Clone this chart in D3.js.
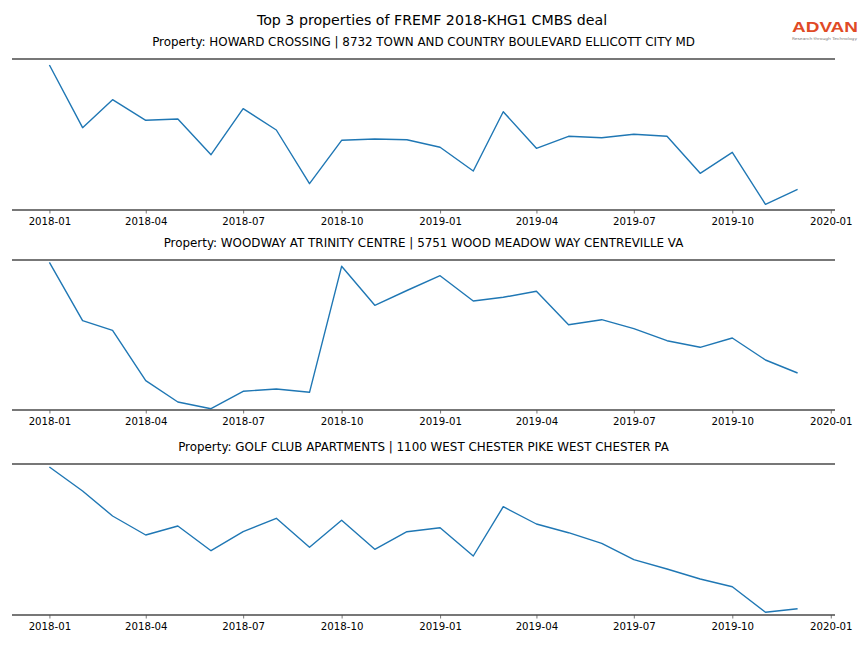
<!DOCTYPE html>
<html><head><meta charset="utf-8">
<script src="https://cdn.jsdelivr.net/npm/d3@7"></script>
<style>body{margin:0;background:#fff;}svg{display:block;font-family:"DejaVu Sans",sans-serif;}</style>
</head><body>
<svg id="c" width="864" height="648"></svg>
<script>
const months = ["2018-01","2018-02","2018-03","2018-04","2018-05","2018-06","2018-07","2018-08","2018-09","2018-10","2018-11","2018-12",
"2019-01","2019-02","2019-03","2019-04","2019-05","2019-06","2019-07","2019-08","2019-09","2019-10","2019-11","2019-12"];
const tickLabels = ["2018-01","2018-04","2018-07","2018-10","2019-01","2019-04","2019-07","2019-10","2020-01"];
const titles = [
 "Property: HOWARD CROSSING | 8732 TOWN AND COUNTRY BOULEVARD ELLICOTT CITY MD",
 "Property: WOODWAY AT TRINITY CENTRE | 5751 WOOD MEADOW WAY CENTREVILLE VA",
 "Property: GOLF CLUB APARTMENTS | 1100 WEST CHESTER PIKE WEST CHESTER PA"];
const howardCrossing = [145,82.3,110.3,89.7,91,55.3,101.3,80,26.3,69.7,71,70.3,62.7,39,98.3,61.7,73.7,72.3,75.7,73.7,36.7,57.7,5.7,20.7];
const woodway = [147.7,89.3,79.7,29.3,8,1.3,18.7,21,17.7,143.7,104.7,119.5,134.3,109,112.7,118.7,85.3,90.3,81.3,69.3,62.7,72,50,37];
const golfClub = [148,124,99,80,89,64.3,83.3,96.7,67.7,94.7,65.7,83.3,87.3,59,108.3,91,82.3,71.7,55.3,46,36,28.3,2.7,6.3];
const seriesList = [howardCrossing, woodway, golfClub];
const yLimits = [[0,151],[0,150],[0,151]];
const mainTitle = "Top 3 properties of FREMF 2018-KHG1 CMBS deal";

const svg = d3.select("#c");
const parse = d3.timeParse("%Y-%m");
const dates = months.map(parse);
const left = 12, right = 835;
const panels = [{top:59,bottom:210},{top:260,bottom:410},{top:464,bottom:615}];

const t0 = dates[0].getTime(), t1 = dates[dates.length-1].getTime();
const pad = (t1 - t0) * 0.05;
const x = d3.scaleTime().domain([new Date(t0 - pad), new Date(t1 + pad)]).range([left, right]);

svg.append("text").attr("x", 432).attr("y", 25).attr("text-anchor","middle")
  .attr("font-size", 14.2).attr("fill","#000").text(mainTitle);

panels.forEach((p, i) => {
  const vals = seriesList[i];
  const y = d3.scaleLinear().domain(yLimits[i]).range([p.bottom, p.top]);
  const g = svg.append("g");
  g.append("text").attr("x", (left+right)/2).attr("y", p.top - 13.5).attr("text-anchor","middle")
    .attr("font-size", 11.9).attr("fill","#000").text(titles[i]);
  const line = d3.line().x((d,j)=>x(dates[j])).y(d=>y(d));
  g.append("path").datum(vals).attr("d", line).attr("fill","none")
    .attr("stroke","#1f77b4").attr("stroke-width",1.4).attr("stroke-linejoin","round");
  const axis = d3.axisBottom(x).tickValues(tickLabels.map(parse))
    .tickFormat(d3.timeFormat("%Y-%m")).tickSizeOuter(0).tickSizeInner(3.5).tickPadding(4.5);
  const ag = g.append("g").attr("transform", `translate(0,${p.bottom})`).call(axis);
  ag.select(".domain").remove();
  ag.selectAll(".tick line").attr("stroke","#555").attr("stroke-width",0.8);
  ag.selectAll(".tick text").attr("font-size", 10.2).attr("fill","#000").attr("font-family","DejaVu Sans");
  [p.top, p.bottom].forEach(yy => {
    g.append("line").attr("x1", left).attr("x2", right).attr("y1", yy).attr("y2", yy)
      .attr("stroke","#4a4a4a").attr("stroke-width",1.6);
  });
});

// logo
const logo = svg.append("g");
logo.append("text").attr("x", 792).attr("y", 31.5).attr("font-size", 15.5).attr("font-weight","bold")
  .attr("fill","#e04a26").attr("textLength", 66).attr("lengthAdjust","spacingAndGlyphs")
  .attr("font-family","Liberation Sans").text("ADVAN");
logo.append("text").attr("x", 792).attr("y", 39.8).attr("font-size", 3.8).attr("fill","#777")
  .attr("textLength", 65).attr("lengthAdjust","spacingAndGlyphs").text("Research through Technology");
</script>
</body></html>
